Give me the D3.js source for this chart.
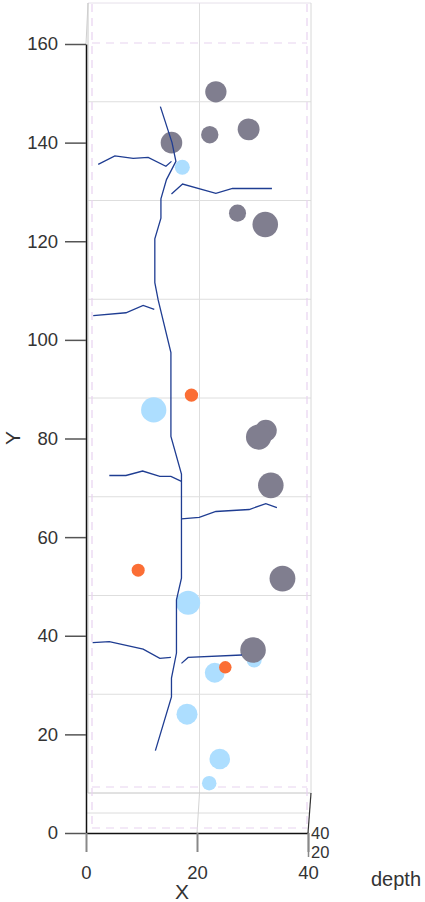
<!DOCTYPE html>
<html>
<head>
<meta charset="utf-8">
<script src="https://cdn.jsdelivr.net/npm/d3@7"></script>
<style>
body { margin: 0; background: #fff; }
svg { display: block; }
text { font-family: "Liberation Sans", Arial, sans-serif; }
</style>
</head>
<body>
<script>
// bubbles, grouped by colour
var grayX = [23.4, 15.4, 22.3, 29.3, 27.3, 32.3, 32.4, 31.1, 33.3, 35.4, 30.1];
var grayY = [150.3, 140.0, 141.6, 142.7, 125.7, 123.4, 81.6, 80.3, 70.5, 51.6, 37.1];
var grayW = [7.5, 7.6, 6.1, 7.7, 6.0, 9.0, 7.7, 8.9, 9.0, 9.1, 9.0];

var blueX = [17.35, 12.2, 18.4, 23.2, 30.3, 18.2, 24.1, 22.2];
var blueY = [135.0, 85.8, 46.7, 32.5, 35.1, 24.1, 15.0, 10.1];
var blueW = [5.3, 8.9, 8.5, 7.0, 5.3, 7.4, 7.25, 5.1];

var orangeX = [19.0, 9.4, 25.1];
var orangeY = [88.8, 53.3, 33.6];
var orangeW = [4.7, 4.6, 4.4];

// root lines: trunk and side branches, as [x, y] pairs
var trunk = [[13.4,147.3],[15.5,140.0],[16.2,136.2],[14.5,132.5],[13.5,128.6],[13.5,124.7],[12.4,120.5],
  [12.4,111.6],[13.0,108.1],[15.3,97.4],[15.3,80.4],[17.2,72.8],[17.2,71.2],[17.2,63.9],[17.2,51.7],
  [16.3,47.3],[16.3,36.5],[15.4,31.4],[15.4,27.6],[12.5,16.7]];
var branches = [
  [[2.2,135.6],[5.2,137.3],[8.5,136.8],[11.2,137.0],[14.4,135.2],[15.4,136.2]],
  [[15.4,129.6],[17.4,131.6],[23.4,129.7],[26.4,130.7],[33.5,130.7]],
  [[1.3,104.9],[7.2,105.5],[10.3,107.0],[12.3,106.2]],
  [[4.2,72.5],[7.2,72.5],[10.2,73.4],[13.3,72.3],[15.3,72.3],[17.2,71.3]],
  [[17.2,63.7],[20.4,64.0],[23.4,65.2],[29.4,65.6],[32.4,66.8],[34.4,66.0]],
  [[1.2,38.6],[4.2,38.8],[10.3,37.3],[13.3,35.4],[15.3,35.6]],
  [[17.2,34.4],[18.4,35.6],[28.1,36.1]]
];

var yTicks = [0, 20, 40, 60, 80, 100, 120, 140, 160];
var xTicks = [0, 20, 40];
var depthTicks = [40, 20];

var width = 425, height = 902;

var svg = d3.select("body").append("svg")
    .attr("width", width)
    .attr("height", height);

// front plane and back plane of the box
var x = d3.scaleLinear().domain([0, 40]).range([86, 308]);
var y = d3.scaleLinear().domain([0, 160]).range([833, 44]);
var xBack = d3.scaleLinear().domain([0, 40]).range([88, 311]);
var yBack = d3.scaleLinear().domain([0, 160]).range([793, 3]);
var depthY = d3.scaleLinear().domain([20, 40]).range([852, 833]);
var r = d3.scaleLinear().domain([0, 10]).range([0, 14.2]);

function seg(x1, y1, x2, y2, color, w, dash) {
  var l = svg.append("line")
      .attr("x1", x1).attr("y1", y1).attr("x2", x2).attr("y2", y2)
      .attr("stroke", color).attr("stroke-width", w || 1);
  if (dash) l.attr("stroke-dasharray", dash);
  return l;
}

// back wall grid
yTicks.slice(1, -1).forEach(function (t) {
  seg(xBack(0), yBack(t), xBack(40), yBack(t), "#dedede");
});
seg(xBack(20), yBack(0), xBack(20), yBack(160), "#dedede");

// floor
seg(xBack(0), yBack(0), xBack(40), yBack(0), "#c4c4c4");
seg(87, 813, 310, 813, "#dcdcdc");
seg(xBack(20), yBack(0), x(20), y(0), "#d4d4d4");

// box edges
seg(xBack(0), yBack(160), xBack(40), yBack(160), "#e6e0ea");
seg(xBack(0), yBack(160), xBack(0), yBack(0), "#c8c8c8");
seg(x(0), y(160), xBack(0), yBack(160), "#cfcfcf");
seg(xBack(40), yBack(160), xBack(40), yBack(0), "#d8d8d8");
seg(xBack(40), yBack(0), x(40), y(0), "#333", 1.2);

// dashed inner frame
var dashC = "#e8d3f0";
seg(92, 4, 92, 828, dashC, 1.2, "8,6");
seg(307, 4, 307, 828, dashC, 1.2, "8,6");
seg(92, 43, 307, 43, dashC, 1.2, "8,6");
seg(92, 787, 307, 787, dashC, 1.2, "8,6");
seg(92, 828, 307, 828, dashC, 1.2, "8,6");

// bubbles
function bubbles(xs, ys, ws, color) {
  svg.append("g").selectAll("circle")
      .data(xs.map(function (d, i) { return { x: d, y: ys[i], w: ws[i] }; }))
      .enter().append("circle")
      .attr("cx", function (d) { return x(d.x); })
      .attr("cy", function (d) { return y(d.y); })
      .attr("r", function (d) { return r(d.w); })
      .attr("fill", color);
}
bubbles(blueX, blueY, blueW, "#addeff");
bubbles(orangeX, orangeY, orangeW, "#fb6e35");
bubbles(grayX, grayY, grayW, "#807e8f");

// roots
var line = d3.line()
    .x(function (d) { return x(d[0]); })
    .y(function (d) { return y(d[1]); });
svg.append("g").selectAll("path")
    .data([trunk].concat(branches))
    .enter().append("path")
    .attr("d", line)
    .attr("fill", "none")
    .attr("stroke", "#1f3d92")
    .attr("stroke-width", 1.3);

// y axis
var yAxis = svg.append("g")
    .attr("transform", "translate(86,0)")
    .call(d3.axisLeft(y).tickValues(yTicks).tickSize(21).tickPadding(7).tickSizeOuter(0));
yAxis.select(".domain").attr("stroke", "#111").attr("stroke-width", 1.5);
yAxis.selectAll(".tick line").attr("stroke", "#555").attr("stroke-width", 1.5);
yAxis.selectAll("text").attr("font-size", 18.5).attr("fill", "#333")
    .attr("font-family", "Liberation Sans, Arial, sans-serif");

// x axis
var xAxis = svg.append("g")
    .attr("transform", "translate(0,833)")
    .call(d3.axisBottom(x).tickValues(xTicks).tickSize(19).tickPadding(14).tickSizeOuter(0));
xAxis.select(".domain").attr("stroke", "#111").attr("stroke-width", 1.5);
xAxis.selectAll(".tick line").attr("stroke", "#888").attr("stroke-width", 2);
xAxis.selectAll("text").attr("font-size", 18.5).attr("fill", "#333")
    .attr("font-family", "Liberation Sans, Arial, sans-serif");

// depth axis
seg(308.5, 833, 308.5, 857, "#888", 1.5);
svg.append("g").selectAll("text")
    .data(depthTicks)
    .enter().append("text")
    .attr("x", 311)
    .attr("y", function (d) { return depthY(d) + 6; })
    .attr("font-size", 16.5)
    .attr("fill", "#333")
    .text(function (d) { return d; });

// axis titles
svg.append("text").attr("x", 182).attr("y", 899).attr("text-anchor", "middle")
    .attr("font-size", 21).attr("fill", "#333").text("X");
svg.append("text").attr("transform", "translate(20,438) rotate(-90)").attr("text-anchor", "middle")
    .attr("font-size", 21).attr("fill", "#333").text("Y");
svg.append("text").attr("x", 371).attr("y", 886)
    .attr("font-size", 20).attr("fill", "#333").text("depth");
</script>
</body>
</html>
